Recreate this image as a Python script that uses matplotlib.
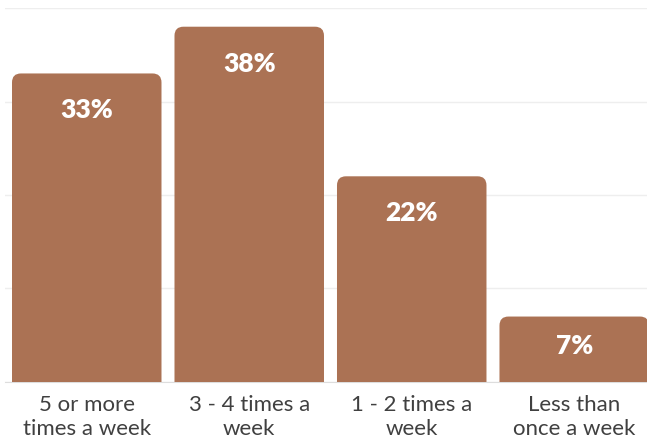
import numpy as np
import matplotlib
matplotlib.use("Agg")
import matplotlib.pyplot as plt
from matplotlib.patches import FancyBboxPatch

# datos
categorias = ["5 or more\ntimes a week", "3 - 4 times a\nweek", "1 - 2 times a\nweek", "Less than\nonce a week"]
valores = [33, 38, 22, 7]
etiquetas = ["33%", "38%", "22%", "7%"]

color_barra = "#AB7254"

fig = plt.figure(figsize=(6.47, 4.45), dpi=100)
ax = fig.add_axes([0.0085, 0.1416, 1.0046, 0.8404])

x = np.arange(len(valores))
ancho = 0.92

# barras con esquinas superiores redondeadas
for xi, v in zip(x, valores):
    caja = FancyBboxPatch((xi - ancho / 2, -2), ancho, v + 2,
                          boxstyle="round,pad=0,rounding_size=0.055",
                          mutation_aspect=17.5, facecolor=color_barra,
                          edgecolor="none", zorder=3)
    ax.add_patch(caja)

# etiquetas de valor
for xi, v, t in zip(x, valores, etiquetas):
    alto_px = v * 9.35
    off = -37 if alto_px > 90 else -29
    ax.annotate(t, (xi, v), xytext=(0, off * 0.72), textcoords="offset points",
                ha="center", va="center", color="white", fontsize=19,
                fontweight="heavy", family="Lato", zorder=4)

ax.set_xlim(-0.5, 3.5)
ax.set_ylim(0, 40)
ax.set_yticks([0, 10, 20, 30, 40])
ax.yaxis.grid(True, color="#eeeeee", linewidth=1)
ax.set_axisbelow(True)
ax.tick_params(left=False, labelleft=False, bottom=False)
for lado in ["top", "right", "left"]:
    ax.spines[lado].set_visible(False)
ax.spines["bottom"].set_color("#dddddd")

ax.set_xticks(x)
ax.set_xticklabels(categorias, fontsize=16, color="#404040", family="Lato",
                   fontweight="normal", linespacing=1.22)
ax.tick_params(axis="x", pad=6)

fig.savefig("out.png", dpi=100)
